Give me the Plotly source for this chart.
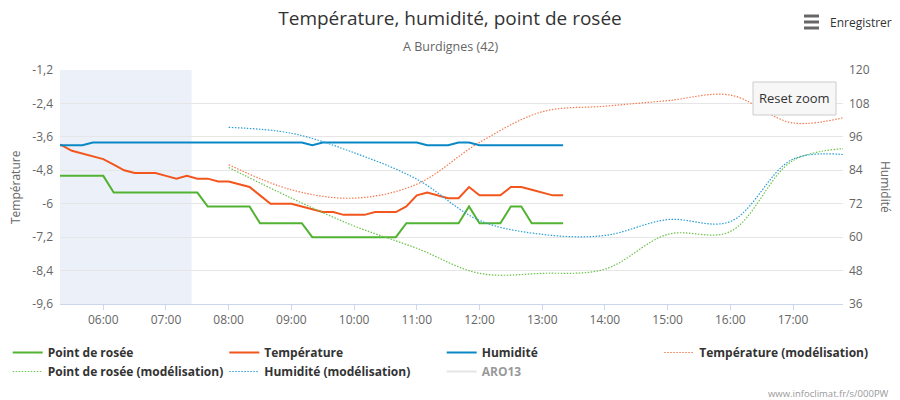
import plotly.graph_objects as go

DAY = "2024-01-20 "

# Observed series (10-minute steps)
obs_times = ["05:10", "05:20", "05:30", "05:40", "05:50", "06:00", "06:10", "06:20", "06:30", "06:40",
             "06:50", "07:00", "07:10", "07:20", "07:30", "07:40", "07:50", "08:00", "08:10", "08:20",
             "08:30", "08:40", "08:50", "09:00", "09:10", "09:20", "09:30", "09:40", "09:50", "10:00",
             "10:10", "10:20", "10:30", "10:40", "10:50", "11:00", "11:10", "11:20", "11:30", "11:40",
             "11:50", "12:00", "12:10", "12:20", "12:30", "12:40", "12:50", "13:00", "13:10", "13:20"]
temperature = [-3.8, -3.9, -4.1, -4.2, -4.3, -4.4, -4.6, -4.8, -4.9, -4.9,
               -4.9, -5.0, -5.1, -5.0, -5.1, -5.1, -5.2, -5.2, -5.3, -5.4,
               -5.7, -6.0, -6.0, -6.0, -6.1, -6.2, -6.3, -6.3, -6.4, -6.4,
               -6.4, -6.3, -6.3, -6.3, -6.1, -5.7, -5.6, -5.7, -5.8, -5.8,
               -5.4, -5.7, -5.7, -5.7, -5.4, -5.4, -5.5, -5.6, -5.7, -5.7]
dew_point = [-5.0, -5.0, -5.0, -5.0, -5.0, -5.0, -5.6, -5.6, -5.6, -5.6,
             -5.6, -5.6, -5.6, -5.6, -5.6, -6.1, -6.1, -6.1, -6.1, -6.1,
             -6.7, -6.7, -6.7, -6.7, -6.7, -7.2, -7.2, -7.2, -7.2, -7.2,
             -7.2, -7.2, -7.2, -7.2, -6.7, -6.7, -6.7, -6.7, -6.7, -6.7,
             -6.1, -6.7, -6.7, -6.7, -6.1, -6.1, -6.7, -6.7, -6.7, -6.7]
humidity = [93, 93, 93, 93, 94, 94, 94, 94, 94, 94,
            94, 94, 94, 94, 94, 94, 94, 94, 94, 94,
            94, 94, 94, 94, 94, 93, 94, 94, 94, 94,
            94, 94, 94, 94, 94, 94, 93, 93, 93, 94,
            94, 93, 93, 93, 93, 93, 93, 93, 93, 93]

# Modelled series (hourly)
model_times = ["08:00", "09:00", "10:00", "11:00", "12:00", "13:00", "14:00", "15:00", "16:00", "17:00", "18:00"]
temp_model = [-4.6, -5.5, -5.8, -5.3, -3.8, -2.7, -2.5, -2.3, -2.1, -3.1, -2.8]
dew_model = [-4.7, -5.8, -6.8, -7.6, -8.5, -8.5, -8.35, -7.1, -7.0, -4.45, -4.0]
hum_model = [99.4, 97.3, 90.3, 80.8, 66.0, 61.0, 60.6, 66.3, 65.6, 88.0, 89.2]

# ARO13 series is hidden in the reference (legend only) – no visible values
aro13_times = [None]
aro13_values = [None]

left_ticks = [-9.6, -8.4, -7.2, -6.0, -4.8, -3.6, -2.4, -1.2]
left_labels = ["-9,6", "-8,4", "-7,2", "-6", "-4,8", "-3,6", "-2,4", "-1,2"]
right_ticks = [36, 48, 60, 72, 84, 96, 108, 120]
right_labels = ["36", "48", "60", "72", "84", "96", "108", "120"]

x_range = [DAY + "05:18:36", DAY + "17:47:50"]
night_band = [DAY + "05:00", DAY + "07:24:30"]

GREEN = "#52b332"
ORANGE = "#f2561d"
BLUE = "#0a88c6"
GREEN_M = "#6cc24a"
ORANGE_M = "#f47a4f"
BLUE_M = "#2a9fd6"

FONT = "Open Sans"

ot = [DAY + t for t in obs_times]
mt = [DAY + t for t in model_times]

fig = go.Figure()
fig.add_trace(go.Scatter(x=ot, y=dew_point, name="Point de rosée", mode="lines", legend="legend",
                         line=dict(color=GREEN, width=2)))
fig.add_trace(go.Scatter(x=ot, y=temperature, name="Température", mode="lines", legend="legend2",
                         line=dict(color=ORANGE, width=2)))
fig.add_trace(go.Scatter(x=ot, y=humidity, name="Humidité", mode="lines", yaxis="y2", legend="legend3",
                         line=dict(color=BLUE, width=2)))
fig.add_trace(go.Scatter(x=mt, y=temp_model, name="Température (modélisation)", mode="lines", legend="legend4",
                         line=dict(color=ORANGE_M, width=1.2, dash="1.5px,1.5px", shape="spline")))
fig.add_trace(go.Scatter(x=mt, y=dew_model, name="Point de rosée (modélisation)", mode="lines", legend="legend",
                         line=dict(color=GREEN_M, width=1.2, dash="1.5px,1.5px", shape="spline")))
fig.add_trace(go.Scatter(x=mt, y=hum_model, name="Humidité (modélisation)", mode="lines", yaxis="y2",
                         legend="legend2",
                         line=dict(color=BLUE_M, width=1.2, dash="1.5px,1.5px", shape="spline")))
fig.add_trace(go.Scatter(x=aro13_times, y=aro13_values, name="ARO13", mode="lines", visible="legendonly",
                         legend="legend3", showlegend=True,
                         line=dict(color="#cccccc", width=2)))

def px_x(px):
    return (px - 60) / 783.0

def px_y(py):
    return (304 - py) / 234.0

shapes = [
    dict(type="rect", xref="x", yref="paper", x0=night_band[0], x1=night_band[1], y0=0, y1=1,
         fillcolor="#ecf0f8", line=dict(width=0), layer="below"),
    # Reset zoom button
    dict(type="rect", xref="paper", yref="paper", x0=px_x(753), x1=px_x(836), y0=px_y(115), y1=px_y(82),
         fillcolor="#f7f7f7", line=dict(color="#cccccc", width=1), layer="above"),
]
# hamburger icon
for yy in (16, 22, 28):
    shapes.append(dict(type="line", xref="paper", yref="paper", x0=px_x(804), x1=px_x(819),
                       y0=px_y(yy), y1=px_y(yy), line=dict(color="#666666", width=3)))

annotations = [
    dict(text="A Burdignes (42)", xref="paper", yref="paper", x=px_x(450), y=px_y(47),
         showarrow=False, font=dict(family=FONT, size=12.5, color="#666666"), xanchor="center", yanchor="middle"),
    dict(text="Enregistrer", xref="paper", yref="paper", x=px_x(894), y=px_y(22),
         showarrow=False, font=dict(family=FONT, size=12, color="#333333"), xanchor="right", yanchor="middle"),
    dict(text="Reset zoom", xref="paper", yref="paper", x=px_x(794.5), y=px_y(98),
         showarrow=False, font=dict(family=FONT, size=13, color="#333333"), xanchor="center", yanchor="middle"),
    dict(text="Température", xref="paper", yref="paper", x=px_x(15), y=0.5, textangle=-90,
         showarrow=False, font=dict(family=FONT, size=12, color="#666666"), xanchor="center", yanchor="middle"),
    dict(text="Humidité", xref="paper", yref="paper", x=px_x(886), y=0.5, textangle=90,
         showarrow=False, font=dict(family=FONT, size=12, color="#666666"), xanchor="center", yanchor="middle"),
    dict(text="www.infoclimat.fr/s/000PW", xref="paper", yref="paper", x=px_x(891), y=px_y(393),
         showarrow=False, font=dict(family=FONT, size=9.5, color="#999999"), xanchor="right", yanchor="middle"),
]

legend_font = dict(family=FONT, size=12, color="#333333", weight="bold")

def legend_at(px):
    return dict(orientation="v", xref="container", yref="container", x=px / 900.0, y=1 - 338 / 400.0,
                xanchor="left", yanchor="top", itemwidth=30, font=legend_font,
                bgcolor="rgba(0,0,0,0)", tracegroupgap=0)

fig.update_layout(
    width=900, height=400,
    margin=dict(l=60, r=57, t=70, b=96, pad=0, autoexpand=False),
    paper_bgcolor="white", plot_bgcolor="white",
    font=dict(family=FONT, color="#666666"),
    title=dict(text="Température, humidité, point de rosée", x=0.5, xref="container", xanchor="center",
               y=1 - 18 / 400.0, yref="container", yanchor="middle",
               font=dict(family=FONT, size=19, color="#333333")),
    showlegend=True,
    legend=legend_at(7.7),
    legend2=legend_at(224.3),
    legend3=legend_at(441.7),
    legend4=legend_at(659.3),
    xaxis=dict(type="date", range=x_range, dtick=3600000, tickformat="%H:%M",
               tick0=DAY + "00:00",
               showgrid=False, zeroline=False, showline=True, linecolor="#ccd6eb", linewidth=1,
               ticks="outside", ticklen=5, tickcolor="#ccd6eb",
               tickfont=dict(family=FONT, size=12, color="#666666")),
    yaxis=dict(range=[-9.6, -1.2], tickvals=left_ticks, ticktext=left_labels,
               showgrid=True, gridcolor="#e6e6e6", gridwidth=1, zeroline=False, showline=False,
               ticks="", ticklabelstandoff=6,
               tickfont=dict(family=FONT, size=12, color="#666666")),
    yaxis2=dict(range=[36, 120], tickvals=right_ticks, ticktext=right_labels, overlaying="y", side="right",
                showgrid=False, zeroline=False, showline=False, ticks="", ticklabelstandoff=5,
                tickfont=dict(family=FONT, size=12, color="#666666")),
    shapes=shapes,
    annotations=annotations,
    hovermode="x unified",
)

fig.write_html("out.html", config={"displayModeBar": False},
               post_script="document.body.style.margin='0';")
